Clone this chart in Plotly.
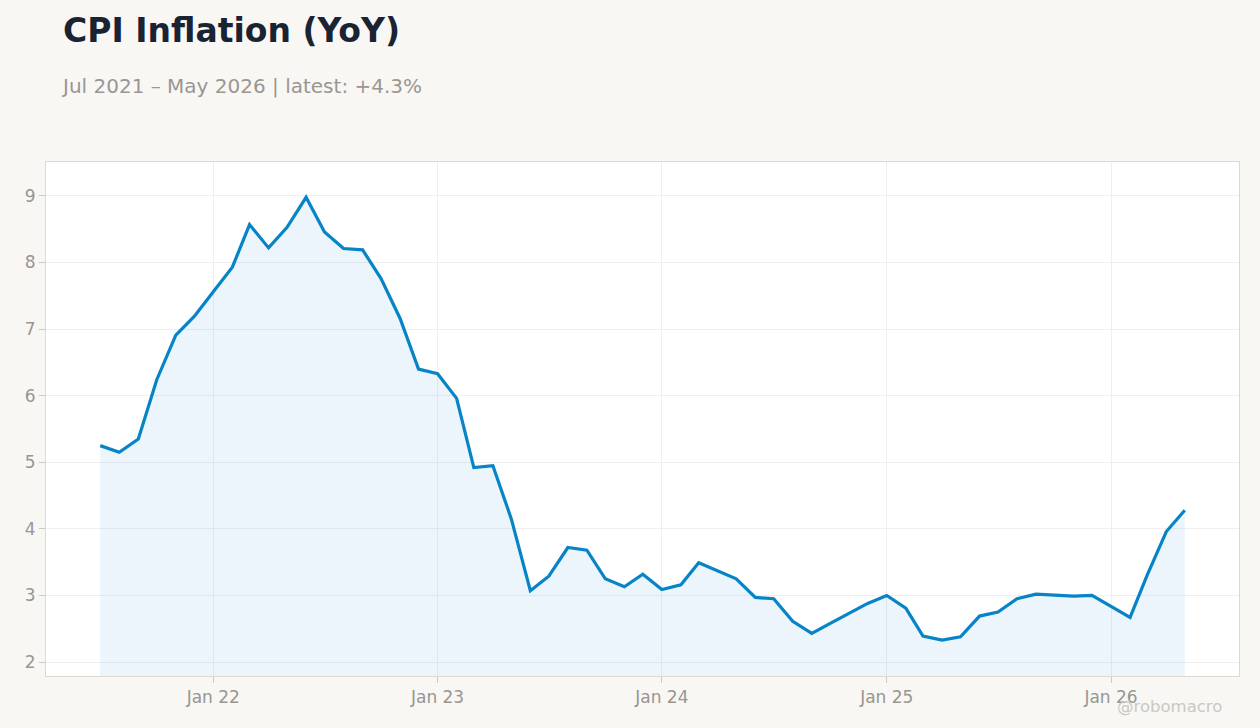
import pandas as pd
import plotly.graph_objects as go

# monthly CPI YoY, Jul 2021 - May 2026
months = pd.date_range("2021-07-01", "2026-05-01", freq="MS")
cpi_yoy = [
    5.25, 5.15, 5.35, 6.24, 6.91, 7.19,
    7.56, 7.93, 8.57, 8.22, 8.53, 8.98, 8.46, 8.21, 8.19, 7.76, 7.16, 6.40,
    6.33, 5.96, 4.92, 4.95, 4.15, 3.07, 3.29, 3.72, 3.68, 3.25, 3.13, 3.32,
    3.09, 3.16, 3.49, 3.37, 3.25, 2.97, 2.95, 2.61, 2.43, 2.58, 2.73, 2.88,
    3.00, 2.81, 2.39, 2.33, 2.38, 2.69, 2.75, 2.95, 3.02, 3.01, 2.99, 3.00,
    2.83, 2.67, 3.31, 3.96, 4.28,
]
y_ticks = [2, 3, 4, 5, 6, 7, 8, 9]
x_ticks = pd.to_datetime(["2022-01-01", "2023-01-01", "2024-01-01", "2025-01-01", "2026-01-01"])
x_labels = ["Jan 22", "Jan 23", "Jan 24", "Jan 25", "Jan 26"]

title = "CPI Inflation (YoY)"
subtitle = f"Jul 2021 – May 2026 | latest: +{cpi_yoy[-1]:.1f}%"

span = months[-1] - months[0]
x_range = [months[0] - span * 0.05, months[-1] + span * 0.05]

fig = go.Figure()

fig.add_trace(go.Scatter(
    x=months,
    y=cpi_yoy,
    mode="lines",
    line=dict(color="#0784c7", width=3.2),
    fill="tozeroy",
    fillcolor="rgba(7,132,199,0.08)",
    showlegend=False,
))

axis_common = dict(
    showline=True,
    linecolor="#ddd8d0",
    linewidth=1,
    mirror=True,
    gridcolor="#efefef",
    ticks="outside",
    ticklen=6,
    tickcolor="#ccc8c2",
    tickfont=dict(family="DejaVu Sans", size=17, color="#999591"),
    zeroline=False,
)

fig.update_xaxes(range=x_range, tickvals=x_ticks, ticktext=x_labels, **axis_common)
fig.update_yaxes(range=[1.79, 9.51], tickvals=y_ticks, **axis_common)

fig.update_layout(
    width=1260,
    height=728,
    margin=dict(l=46, r=21, t=162, b=52),
    paper_bgcolor="#f8f7f4",
    plot_bgcolor="#ffffff",
    title=dict(
        text=f"<b>{title}</b>",
        x=63 / 1260, xanchor="left",
        y=1 - 30 / 728, yanchor="middle",
        font=dict(family="DejaVu Sans", size=33, color="#1a2332"),
    ),
    annotations=[
        dict(
            text=subtitle, xref="paper", yref="paper",
            x=0, y=1, xshift=13, yshift=76,
            showarrow=False, xanchor="left", yanchor="middle",
            font=dict(family="DejaVu Sans", size=20, color="#9a9692"),
        ),
        dict(
            text="@robomacro", xref="paper", yref="paper",
            x=1, y=0, xshift=-15, yshift=-42,
            showarrow=False, xanchor="right", yanchor="bottom",
            font=dict(family="DejaVu Sans", size=16.5, color="#cbc8c3"),
        ),
    ],
)

fig.write_html(
    "out.html",
    config={"displayModeBar": False},
    post_script="document.body.style.margin='0';",
)
